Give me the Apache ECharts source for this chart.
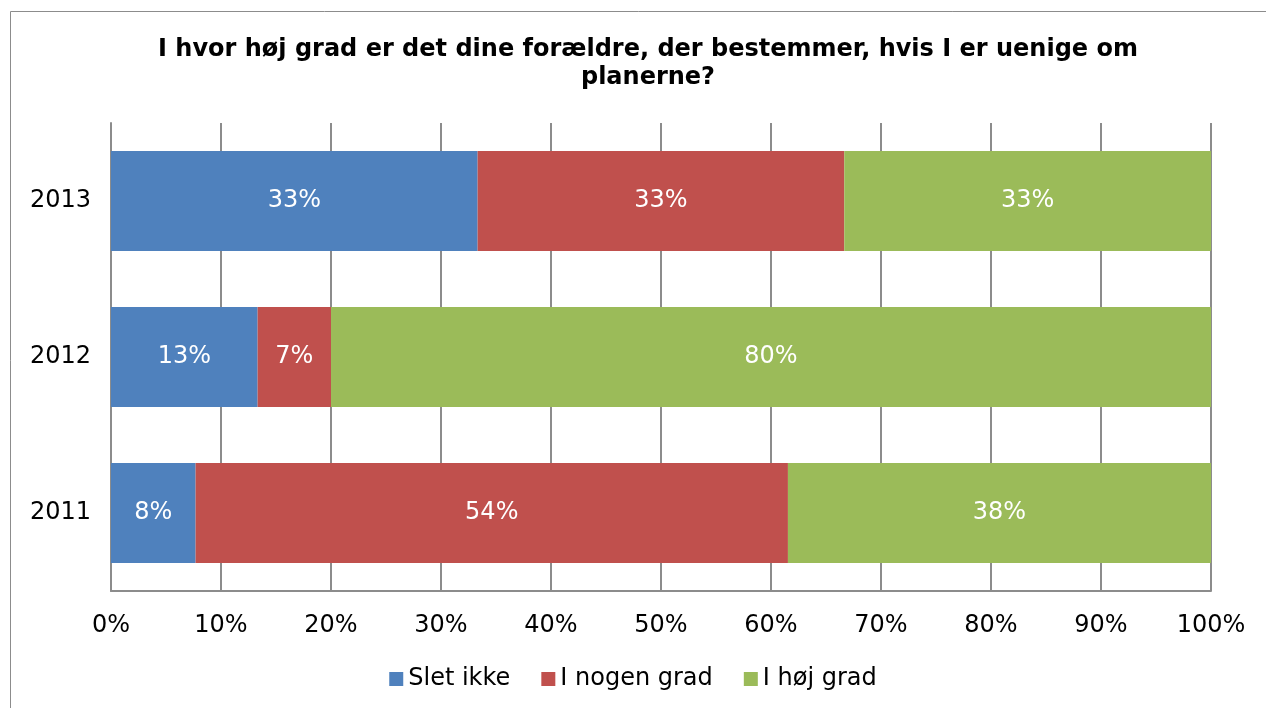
<!DOCTYPE html>
<html>
<head>
	<meta charset="utf-8">
	<title>Forældre bestemmer</title>
	<script src="https://cdn.jsdelivr.net/npm/echarts@6/dist/echarts.min.js"></script>
	<style>
		html, body { margin: 0; padding: 0; background: #fff; }
		#echarts { width: 1266px; height: 708px; }
	</style>
</head>
<body>
	<div id="echarts"></div>
	<script>
	// data (andele pr. år, 2011 nederst)
	var years = ['2011', '2012', '2013'];
	var sletIkke = [7.69, 13.33, 33.33];
	var nogenGrad = [53.85, 6.67, 33.33];
	var hoejGrad = [38.46, 80.0, 33.34];
	var seriesNames = ['Slet ikke', 'I nogen grad', 'I høj grad'];
	var colors = ['#4f81bd', '#c0504d', '#9bbb59'];
	var xTicks = [0, 10, 20, 30, 40, 50, 60, 70, 80, 90, 100];

	var font = 'DejaVu Sans, Verdana, sans-serif';
	let myChart = echarts.init(document.getElementById('echarts'));

	var seriesData = [sletIkke, nogenGrad, hoejGrad];
	var series = seriesData.map(function (vals, i) {
		return {
			name: seriesNames[i],
			type: 'bar',
			stack: 'total',
			barWidth: 100,
			itemStyle: { color: colors[i] },
			label: {
				show: true,
				position: 'inside',
				color: '#fff',
				fontFamily: font,
				fontSize: 24,
				formatter: function (p) { return Math.round(p.value) + '%'; }
			},
			data: vals
		};
	});

	let option = {
		backgroundColor: '#fff',
		animation: false,
		color: colors,
		title: {
			text: 'I hvor høj grad er det dine forældre, der bestemmer, hvis I er uenige om\nplanerne?',
			left: 643,
			top: 31,
			textAlign: 'center',
			textStyle: {
				fontFamily: font,
				fontSize: 24,
				fontWeight: 'bold',
				color: '#000',
				lineHeight: 28
			}
		},
		graphic: [{
			type: 'rect',
			shape: { x: 10.5, y: 11.5, width: 1400, height: 900 },
			style: { fill: null, stroke: '#8c8c8c', lineWidth: 1 },
			silent: true
		}],
		legend: {
			bottom: 12,
			left: 'center',
			itemWidth: 14,
			itemHeight: 14,
			itemGap: 31,
			icon: 'rect',
			textStyle: { fontFamily: font, fontSize: 24, color: '#000' },
			data: seriesNames
		},
		grid: {
			left: 111,
			right: 55,
			top: 123,
			bottom: 117
		},
		xAxis: {
			type: 'value',
			min: 0,
			max: 100,
			interval: 10,
			axisLine: { show: true, lineStyle: { color: '#8c8c8c', width: 2 } },
			axisTick: { show: false },
			splitLine: { show: true, lineStyle: { color: '#8c8c8c', width: 2 } },
			axisLabel: {
				margin: 23,
				fontFamily: font,
				fontSize: 24,
				color: '#000',
				formatter: function (v) { return xTicks.indexOf(v) >= 0 ? v + '%' : ''; }
			}
		},
		yAxis: {
			type: 'category',
			data: years,
			axisLine: { show: true, lineStyle: { color: '#8c8c8c', width: 2 } },
			axisTick: { show: false },
			axisLabel: {
				margin: 20,
				fontFamily: font,
				fontSize: 24,
				color: '#000'
			}
		},
		series: series
	};

	myChart.setOption(option);
	</script>
</body>
</html>
